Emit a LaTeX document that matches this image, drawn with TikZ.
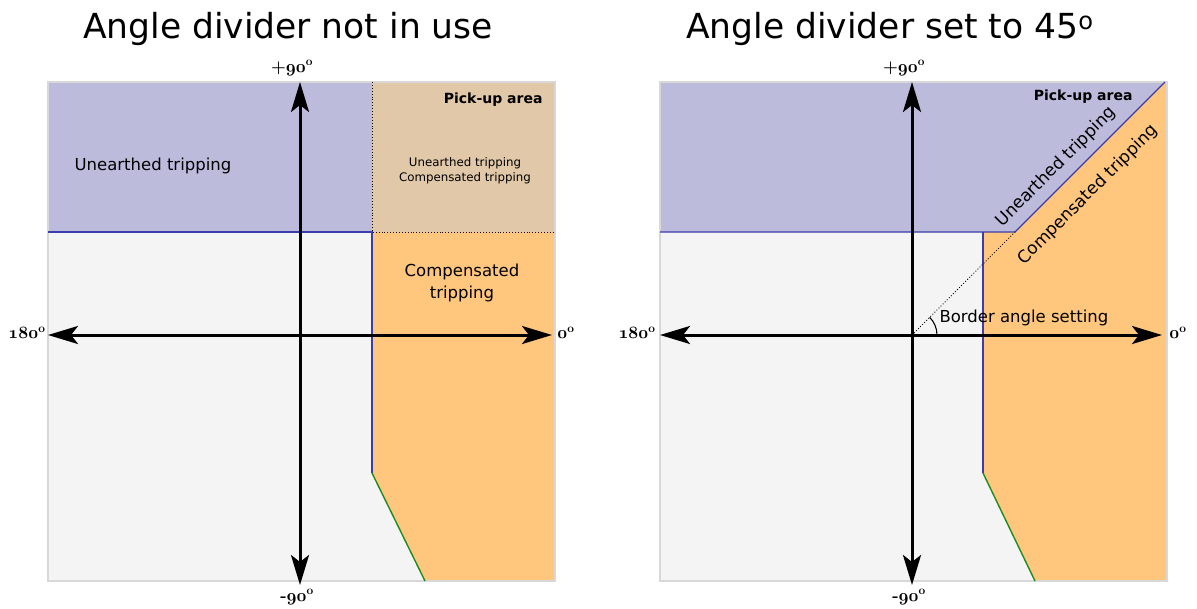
\documentclass[tikz,border=0pt]{standalone}
\usepackage{fontspec}
\newfontfamily\labelfont{DejaVu Sans}
\usetikzlibrary{arrows.meta}
\definecolor{unearthed}{HTML}{BDBBDC}
\definecolor{pickup}{HTML}{E0C8A8}
\definecolor{compensated}{HTML}{FFC67E}
\definecolor{panel}{HTML}{F4F4F4}
\definecolor{frame}{HTML}{D8D8D8}
\definecolor{border}{HTML}{3C3CAA}
\definecolor{limit}{HTML}{1E8C1E}
\tikzset{
  axis/.style={line width=3pt, {Stealth[length=30pt,width=18pt,inset=7pt]}-{Stealth[length=30pt,width=18pt,inset=7pt]}},
  deg/.style={font=\fontsize{17}{20}\selectfont},
  title/.style={font=\labelfont\fontsize{34.5}{40}\selectfont},
  zone/.style={font=\labelfont\fontsize{16.5}{22}\selectfont, align=center},
  slanted/.style={font=\labelfont\fontsize{17}{22}\selectfont, rotate=45},
  small/.style={font=\labelfont\fontsize{11.8}{15}\selectfont, align=center},
  pickuptext/.style={font=\labelfont\bfseries\fontsize{14}{16}\selectfont},
  edge/.style={border, line width=1.1pt},
  limitedge/.style={limit, line width=1.4pt},
  divide/.style={dotted, line width=0.9pt}
}
\newcommand{\oldfig}[1]{{\usefont{OML}{cmm}{b}{it}#1}}
\newcommand{\degs}[1]{\oldfig{#1}\textsuperscript{\bfseries o}}
\begin{document}
\begin{tikzpicture}[x=1pt,y=-1pt]
    \useasboundingbox[fill=white] (0,0) rectangle (1197,608);
    % left panel: angle divider not in use
    \node[title] (t1) at (288,29) {Angle divider not in use};
    \fill[panel] (48,82) rectangle (555,581);
    \fill[unearthed] (48,82) rectangle (372,232);
    \fill[pickup] (372,82) rectangle (555,232);
    \fill[compensated] (372,232) -- (555,232) -- (555,581) -- (425,581) -- (372,473) -- cycle;
    \draw[frame, line width=1.5pt] (48,82) rectangle (555,581);
    \coordinate (a1) at (48,232);
    \coordinate (b1) at (372,232);
    \coordinate (c1) at (372,473);
    \coordinate (d1) at (425,581);
    \coordinate (e1) at (372,82);
    \coordinate (f1) at (555,232);
    \draw[edge] (a1) -- (b1) -- (c1);
    \draw[limitedge] (c1) -- (d1);
    \draw[divide] (e1) -- (b1) -- (f1);
    \node[zone] (u1) at (153,166) {Unearthed tripping};
    \node[pickuptext, anchor=east] (p1) at (546,100) {Pick-up area};
    \node[small] (m1) at (465,171) {Unearthed tripping\\Compensated tripping};
    \node[zone] (c1t) at (462,283) {Compensated\\tripping};
    \node[deg] (n1) at (292,68) {{\bfseries+}\degs{90}};
    \node[deg] (s1) at (297,597) {{\bfseries-}\degs{90}};
    \node[deg] (w1) at (27,333) {\degs{180}};
    \node[deg] (o1) at (566,333) {\degs{0}};
    \coordinate (up1) at (300,82);
    \coordinate (dn1) at (300,585);
    \coordinate (lt1) at (48,335);
    \coordinate (rt1) at (552,335);
    \draw[axis] (lt1) -- (rt1);
    \draw[axis] (dn1) -- (up1);
    % right panel: angle divider set to 45 degrees
    \node[title] (t2) at (890,29) {Angle divider set to 45\textsuperscript{o}};
    \fill[panel] (660,82) rectangle (1167,581);
    \fill[unearthed] (660,82) -- (1165,82) -- (1015,232) -- (660,232) -- cycle;
    \fill[compensated] (983,232) -- (1015,232) -- (1165,82) -- (1167,82) -- (1167,581) -- (1035,581) -- (983,473) -- cycle;
    \draw[frame, line width=1.5pt] (660,82) rectangle (1167,581);
    \coordinate (o2) at (912,335);
    \coordinate (a2) at (660,232);
    \coordinate (b2) at (1015,232);
    \coordinate (g2) at (1165,82);
    \coordinate (h2) at (983,232);
    \coordinate (c2) at (983,473);
    \coordinate (d2) at (1035,581);
    \draw[edge] (a2) -- (b2) -- (g2);
    \draw[edge] (h2) -- (c2);
    \draw[limitedge] (c2) -- (d2);
    \draw[divide] (o2) -- (b2);
    \draw[line width=1.1pt] ([xshift=25pt]o2) arc (0:-45:25);
    \node[pickuptext, anchor=east] (p2) at (1136,97) {Pick-up area};
    \node[slanted] (u2) at (1056,167) {Unearthed tripping};
    \node[slanted] (c2t) at (1088,195) {Compensated tripping};
    \node[zone, anchor=west] (ba) at (936,318) {Border angle setting};
    \node[deg] (n2) at (904,68) {{\bfseries+}\degs{90}};
    \node[deg] (s2) at (909,597) {{\bfseries-}\degs{90}};
    \node[deg] (w2) at (637,333) {\degs{180}};
    \node[deg] (e2) at (1178,333) {\degs{0}};
    \coordinate (up2) at (912,82);
    \coordinate (dn2) at (912,585);
    \coordinate (lt2) at (660,335);
    \coordinate (rt2) at (1162,335);
    \draw[axis] (lt2) -- (rt2);
    \draw[axis] (dn2) -- (up2);
\end{tikzpicture}
\end{document}
